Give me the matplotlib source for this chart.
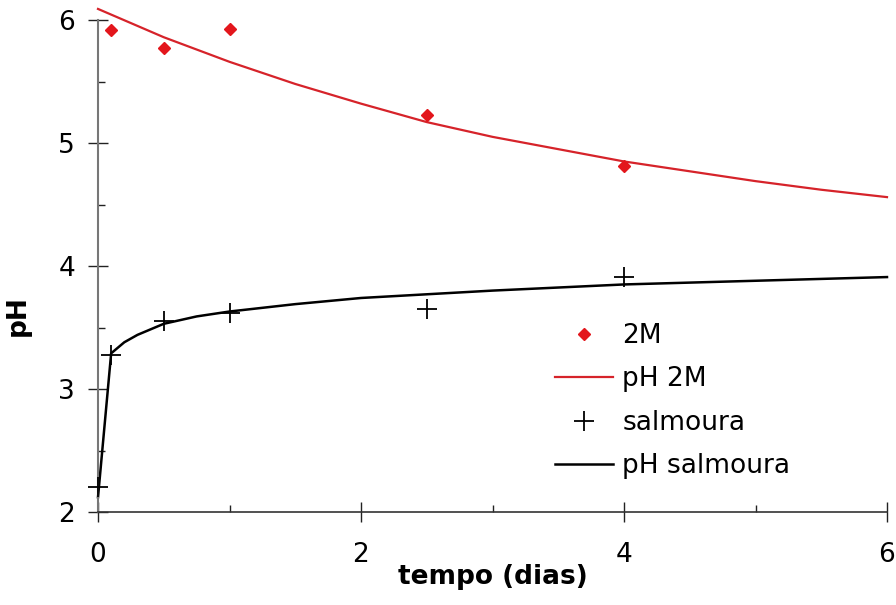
import matplotlib
matplotlib.use("Agg")
import matplotlib.pyplot as plt
from matplotlib.ticker import MultipleLocator

# measured pH, brine 2M
t_2m = [0.1, 0.5, 1.0, 2.5, 4.0]
ph_2m = [5.92, 5.77, 5.93, 5.23, 4.81]

# fitted trend, brine 2M
t_fit_2m = [0, 0.5, 1, 1.5, 2, 2.5, 3, 3.5, 4, 4.5, 5, 5.5, 6]
ph_fit_2m = [6.09, 5.86, 5.66, 5.48, 5.32, 5.17, 5.05, 4.95, 4.85, 4.77, 4.69, 4.62, 4.56]

# measured pH, salmoura
t_sal = [0.0, 0.1, 0.5, 1.0, 2.5, 4.0]
ph_sal = [2.20, 3.28, 3.55, 3.62, 3.65, 3.91]

# fitted trend, salmoura
t_fit_sal = [0, 0.1, 0.2, 0.3, 0.5, 0.75, 1, 1.5, 2, 2.5, 3, 4, 5, 6]
ph_fit_sal = [2.12, 3.29, 3.38, 3.44, 3.53, 3.59, 3.63, 3.69, 3.74, 3.77, 3.80, 3.85, 3.88, 3.91]

plt.rcParams["font.family"] = ["DejaVu Sans"]
FS = 19

fig = plt.figure(figsize=(8.96, 6.05), dpi=100)
ax = fig.add_axes([98 / 896, 1 - 512 / 605, (887 - 98) / 896, (512 - 20) / 605])

red = "#e3161c"
ax.plot(t_2m, ph_2m, linestyle="none", marker="D", ms=6.5, color=red,
        label="2M", clip_on=False, zorder=3)
ax.plot(t_fit_2m, ph_fit_2m, color="#d6232a", lw=1.6, label="pH 2M", clip_on=False)
ax.plot(t_sal, ph_sal, linestyle="none", marker="+", ms=14.5, mew=1.3,
        color="black", label="salmoura", clip_on=False, zorder=3)
ax.plot(t_fit_sal, ph_fit_sal, color="black", lw=1.8, label="pH salmoura", clip_on=False)

ax.set_xlim(0, 6)
ax.set_ylim(2, 6)
ax.xaxis.set_major_locator(MultipleLocator(2))
ax.xaxis.set_minor_locator(MultipleLocator(1))
ax.yaxis.set_major_locator(MultipleLocator(1))
ax.yaxis.set_minor_locator(MultipleLocator(0.5))

for s in ("top", "right"):
    ax.spines[s].set_visible(False)
ax.spines["left"].set_color("#777777")
ax.spines["left"].set_linewidth(1.5)
ax.spines["bottom"].set_color("#333333")
ax.spines["bottom"].set_linewidth(1.2)

ax.tick_params(which="major", direction="inout", length=15, width=1.0,
               color="#222222", labelsize=FS)
ax.tick_params(axis="x", which="major", pad=14)
ax.tick_params(axis="y", which="major", pad=9)
ax.tick_params(which="minor", direction="in", length=5, width=1.0, color="#222222")

ax.set_xlabel("tempo (dias)", fontsize=FS, fontweight="bold", labelpad=-3)
ax.set_ylabel("pH", fontsize=FS, fontweight="bold")
ax.yaxis.set_label_coords(-0.085, 0.40)

ax.legend(loc="upper left", bbox_to_anchor=(555 / 896, 1 - 323 / 605),
          bbox_transform=fig.transFigure, frameon=False, fontsize=FS,
          handlelength=2.2, handletextpad=0.35, labelspacing=0.66,
          borderaxespad=0, borderpad=0)

fig.savefig("out.png", dpi=100, facecolor="white")
